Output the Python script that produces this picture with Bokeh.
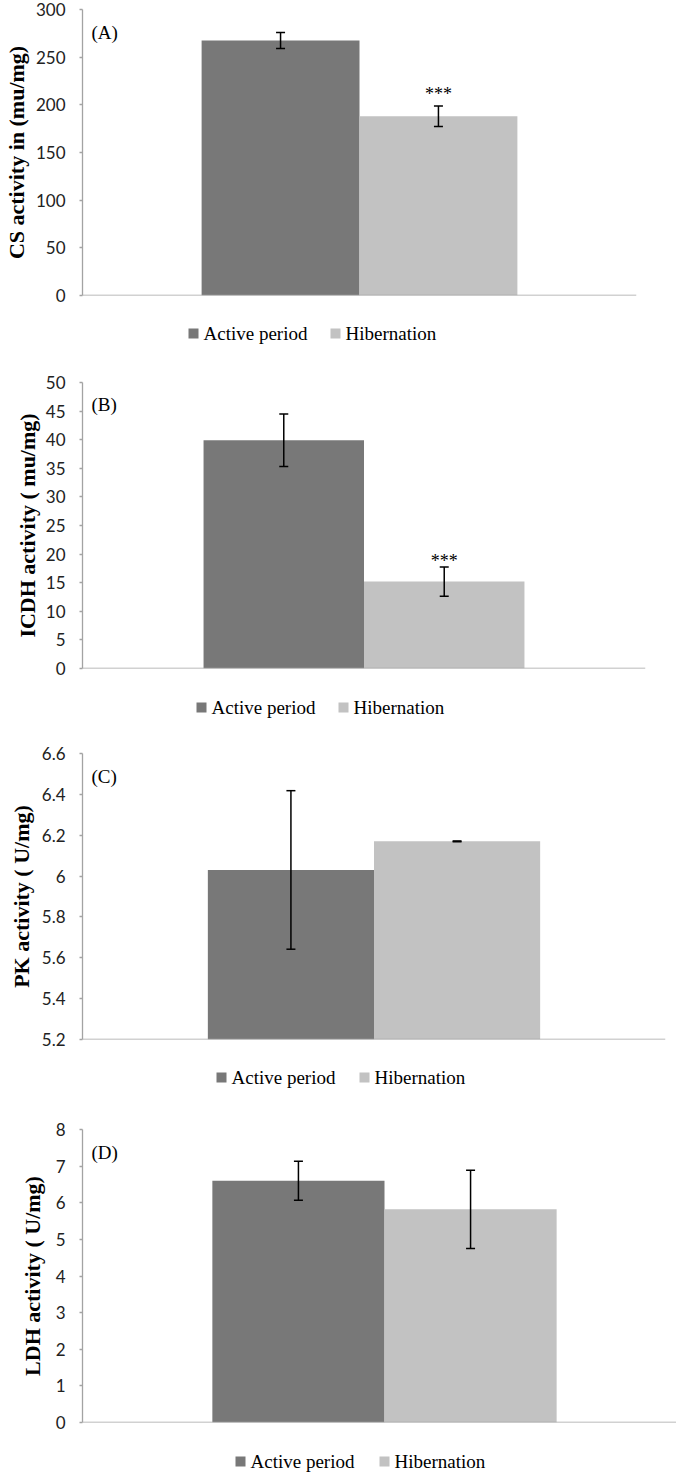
import numpy as np
from bokeh.plotting import figure
from bokeh.models import (ColumnDataSource, Range1d, FixedTicker, Whisker, TeeHead, Label)
from bokeh.layouts import column
from bokeh.embed import file_html
from bokeh.resources import INLINE

# ---------------- data ----------------
series = ["Active period", "Hibernation"]
panel_tags = ["(A)", "(B)", "(C)", "(D)"]
y_titles = ["CS activity in (mu/mg)", "ICDH activity ( mu/mg)",
            "PK activity ( U/mg)", "LDH activity ( U/mg)"]

cs_mean = [267.5, 188.0]
cs_err = [8.5, 10.8]
icdh_mean = [39.9, 15.2]
icdh_err = [4.6, 2.55]
pk_mean = [6.03, 6.17]
pk_err = [0.388, 0.002]
ldh_mean = [6.6, 5.82]
ldh_err = [0.53, 1.07]

cs_sig = ["", "***"]
icdh_sig = ["", "***"]
pk_sig = ["", ""]
ldh_sig = ["", ""]

cs_ticks = [0, 50, 100, 150, 200, 250, 300]
cs_tick_labels = ["0", "50", "100", "150", "200", "250", "300"]
icdh_ticks = [0, 5, 10, 15, 20, 25, 30, 35, 40, 45, 50]
icdh_tick_labels = ["0", "5", "10", "15", "20", "25", "30", "35", "40", "45", "50"]
pk_ticks = [5.2, 5.4, 5.6, 5.8, 6.0, 6.2, 6.4, 6.6]
pk_tick_labels = ["5.2", "5.4", "5.6", "5.8", "6", "6.2", "6.4", "6.6"]
ldh_ticks = [0, 1, 2, 3, 4, 5, 6, 7, 8]
ldh_tick_labels = ["0", "1", "2", "3", "4", "5", "6", "7", "8"]

# ---------------- style / layout ----------------
BAR_COLORS = ["#787878", "#c2c2c2"]
AXIS_GREY = "#a3a3a3"
SERIF = "Liberation Serif"
SANS = "Lato"
BAR_W = 0.285
FIG_W = 676
LEFT = 72

panels = [
    dict(mean=cs_mean, err=cs_err, sig=cs_sig, ticks=cs_ticks, labels=cs_tick_labels,
         fw=554, fh=286, top=9, stand=4, star=2, tag=-23,
         leg_h=67, leg_c=28, leg_x=[106, 248]),
    dict(mean=icdh_mean, err=icdh_err, sig=icdh_sig, ticks=icdh_ticks, labels=icdh_tick_labels,
         fw=563, fh=286, top=10, stand=3, star=-4, tag=-22,
         leg_h=65, leg_c=29, leg_x=[114, 256]),
    dict(mean=pk_mean, err=pk_err, sig=pk_sig, ticks=pk_ticks, labels=pk_tick_labels,
         fw=583, fh=286, top=10, stand=5, star=0, tag=-23,
         leg_h=70, leg_c=28, leg_x=[134, 277]),
    dict(mean=ldh_mean, err=ldh_err, sig=ldh_sig, ticks=ldh_ticks, labels=ldh_tick_labels,
         fw=604, fh=293, top=10, stand=8, star=0, tag=-23,
         leg_h=41, leg_c=29, leg_x=[153, 297]),
]
BOTTOM = 10

items = []
for i, pc in enumerate(panels):
    ticks = pc["ticks"]
    base, ytop = ticks[0], ticks[-1]
    right = FIG_W - LEFT - pc["fw"]
    p = figure(frame_width=pc["fw"], frame_height=pc["fh"],
               min_border_left=LEFT, min_border_right=right,
               min_border_top=pc["top"], min_border_bottom=BOTTOM,
               x_range=Range1d(0, 1), y_range=Range1d(base, ytop),
               x_axis_location=None, toolbar_location=None, output_backend="svg",
               title=None)
    p.outline_line_color = None
    p.grid.visible = False
    p.background_fill_color = "white"
    p.border_fill_color = "white"

    xs = [0.5 - BAR_W / 2, 0.5 + BAR_W / 2]
    mean = np.array(pc["mean"], dtype=float)
    err = np.array(pc["err"], dtype=float)

    for k in range(2):
        src = ColumnDataSource(dict(x=[xs[k]], top=[mean[k]]))
        p.vbar(x="x", top="top", bottom=base, width=BAR_W, source=src,
               fill_color=BAR_COLORS[k], line_color=None)

    # baseline (horizontal category axis line)
    p.segment(x0=[0], y0=[base], x1=[1], y1=[base], line_color=AXIS_GREY, line_width=1.3)

    esrc = ColumnDataSource(dict(x=xs, upper=list(mean + err), lower=list(mean - err)))
    wh = Whisker(base="x", upper="upper", lower="lower", source=esrc,
                 line_color="black", line_width=1.5, level="overlay",
                 upper_head=TeeHead(size=9, line_color="black", line_width=1.5),
                 lower_head=TeeHead(size=9, line_color="black", line_width=1.5))
    p.add_layout(wh)

    for k in range(2):
        if pc["sig"][k]:
            p.add_layout(Label(x=xs[k], y=mean[k] + err[k], text=pc["sig"][k],
                               text_align="center", text_baseline="bottom",
                               y_offset=pc["star"], text_font=SERIF,
                               text_font_size="18px", text_color="black"))

    p.add_layout(Label(x=0, y=ytop, text=panel_tags[i], x_offset=9,
                       y_offset=pc["tag"], text_align="left",
                       text_baseline="alphabetic", text_font=SERIF,
                       text_font_size="19px", text_color="black"))

    ax = p.yaxis[0]
    ax.ticker = FixedTicker(ticks=ticks)
    ax.major_label_overrides = {t: lab for t, lab in zip(ticks, pc["labels"])}
    ax.axis_line_color = AXIS_GREY
    ax.axis_line_width = 1.3
    ax.major_tick_line_color = AXIS_GREY
    ax.major_tick_line_width = 1.3
    ax.major_tick_out = 3
    ax.major_tick_in = 0
    ax.minor_tick_line_color = None
    ax.major_label_standoff = 14
    ax.major_label_text_font = SANS
    ax.major_label_text_font_size = "17px"
    ax.major_label_text_color = "#222222"
    ax.axis_label = y_titles[i]
    ax.axis_label_text_font = SERIF
    ax.axis_label_text_font_style = "bold"
    ax.axis_label_text_font_size = "22px"
    ax.axis_label_text_color = "black"
    ax.axis_label_standoff = pc["stand"]
    items.append(p)

    # legend strip (key) below each chart, sharing the chart's frame geometry
    lh = pc["leg_h"]
    lg = figure(frame_width=pc["fw"], frame_height=lh,
                min_border_left=LEFT, min_border_right=right,
                min_border_top=0, min_border_bottom=0,
                x_range=Range1d(0, pc["fw"]), y_range=Range1d(0, lh),
                toolbar_location=None, output_backend="svg",
                x_axis_location=None, y_axis_location=None, title=None)
    lg.outline_line_color = None
    lg.grid.visible = False
    lg.background_fill_color = "white"
    lg.border_fill_color = "white"
    yc = lh - pc["leg_c"]
    sw_x = [pc["leg_x"][k] + 5 for k in range(2)]
    tx_x = [pc["leg_x"][k] + 15 for k in range(2)]
    lg.scatter(x=sw_x, y=[yc, yc], marker="square", size=10,
               fill_color=BAR_COLORS, line_color=None)
    for k in range(2):
        lg.add_layout(Label(x=tx_x[k], y=yc, text=series[k], text_font=SERIF,
                            text_font_size="19px", text_baseline="middle",
                            text_align="left", text_color="black"))
    items.append(lg)

layout = column(*items, spacing=0)
open("out.html", "w").write(file_html(layout, INLINE))
